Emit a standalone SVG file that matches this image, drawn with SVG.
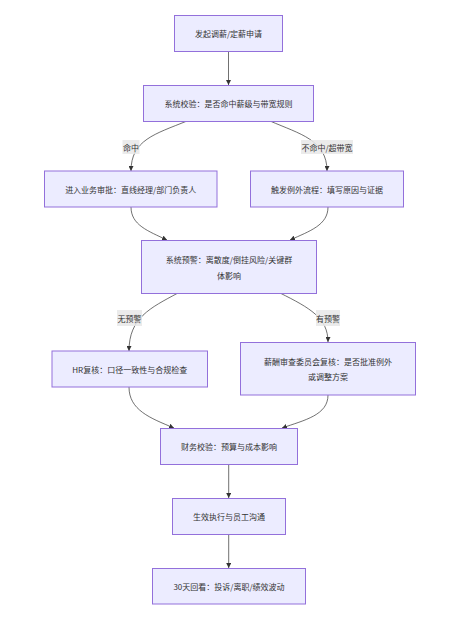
<svg xmlns="http://www.w3.org/2000/svg" width="471" height="618" viewBox="0 0 471 618">
<style>
.n{fill:#ECECFF;stroke:#9370DB;stroke-width:1}
.t{font-family:"Noto Sans CJK SC","Noto Sans",sans-serif;font-size:8px;fill:#333;text-anchor:middle;dominant-baseline:central}
.e{fill:none;stroke:#333;stroke-width:0.7}
.lb{fill:#e8e8e8;opacity:0.85}
</style>
<defs>
<marker id="ah" viewBox="0 0 10 10" refX="10" refY="5" markerUnits="userSpaceOnUse" markerWidth="5" markerHeight="5" orient="auto">
<path d="M0,0 L10,5 L0,10 z" fill="#333"/>
</marker>
</defs>
<rect width="471" height="618" fill="#fff"/>
<g id="connectors">
<path class="e" d="M228.5,52 L228.5,85" marker-end="url(#ah)"/>
<path class="e" d="M187,121 C155,134 131,140 131,171" marker-end="url(#ah)"/>
<path class="e" d="M270,121 C300,134 327,140 327,171" marker-end="url(#ah)"/>
<path class="e" d="M131,207 C131,225 148,231 167,240" marker-end="url(#ah)"/>
<path class="e" d="M328,207 C328,225 310,231 290,240" marker-end="url(#ah)"/>
<path class="e" d="M178,293 C150,308 129,318 129,351" marker-end="url(#ah)"/>
<path class="e" d="M280,293 C310,308 328,318 328,342" marker-end="url(#ah)"/>
<path class="e" d="M129,387 C129,410 150,418 174,428" marker-end="url(#ah)"/>
<path class="e" d="M328,395 C328,415 305,420 282,428" marker-end="url(#ah)"/>
<path class="e" d="M228.7,464 L228.7,498" marker-end="url(#ah)"/>
<path class="e" d="M228.7,534 L228.7,568" marker-end="url(#ah)"/>
<g id="edge-labels">
<rect class="lb" x="122.5" y="140" width="17" height="14"/>
<text class="t" x="131" y="147">命中</text>
<rect class="lb" x="301" y="140" width="52" height="14"/>
<text class="t" x="327" y="147">不命中/超带宽</text>
<rect class="lb" x="117" y="310" width="25" height="16"/>
<text class="t" x="129.5" y="318">无预警</text>
<rect class="lb" x="316" y="310" width="24" height="16"/>
<text class="t" x="328" y="318">有预警</text>
</g>
</g>
<g id="n1"><rect class="n" x="174.5" y="15.5" width="108" height="36"/><text class="t" x="228.5" y="33.5">发起调薪/定薪申请</text></g>
<g id="n2"><rect class="n" x="143.5" y="85.5" width="170" height="36"/><text class="t" x="228.5" y="103.5">系统校验：是否命中薪级与带宽规则</text></g>
<g id="n3"><rect class="n" x="44.5" y="171" width="172.5" height="36"/><text class="t" x="130.7" y="189">进入业务审批：直线经理/部门负责人</text></g>
<g id="n4"><rect class="n" x="250.5" y="171" width="153" height="36"/><text class="t" x="327" y="189">触发例外流程：填写原因与证据</text></g>
<g id="n5"><rect class="n" x="141.5" y="240.5" width="175" height="53"/><text class="t" x="229" y="259.3">系统预警：离散度/倒挂风险/关键群</text><text class="t" x="229" y="275">体影响</text></g>
<g id="n6"><rect class="n" x="52" y="351" width="155.5" height="36"/><text class="t" x="129.7" y="369">HR复核：口径一致性与合规检查</text></g>
<g id="n7"><rect class="n" x="240.5" y="342.5" width="175" height="52.5"/><text class="t" x="328" y="361">薪酬审查委员会复核：是否批准例外</text><text class="t" x="328" y="376.7">或调整方案</text></g>
<g id="n8"><rect class="n" x="160.5" y="428.5" width="137" height="36"/><text class="t" x="229" y="446.5">财务校验：预算与成本影响</text></g>
<g id="n9"><rect class="n" x="172.5" y="498.5" width="113" height="36"/><text class="t" x="229" y="516.5">生效执行与员工沟通</text></g>
<g id="n10"><rect class="n" x="152.5" y="568.5" width="153" height="35.5"/><text class="t" x="229" y="586.3">30天回看：投诉/离职/绩效波动</text></g>
</svg>
